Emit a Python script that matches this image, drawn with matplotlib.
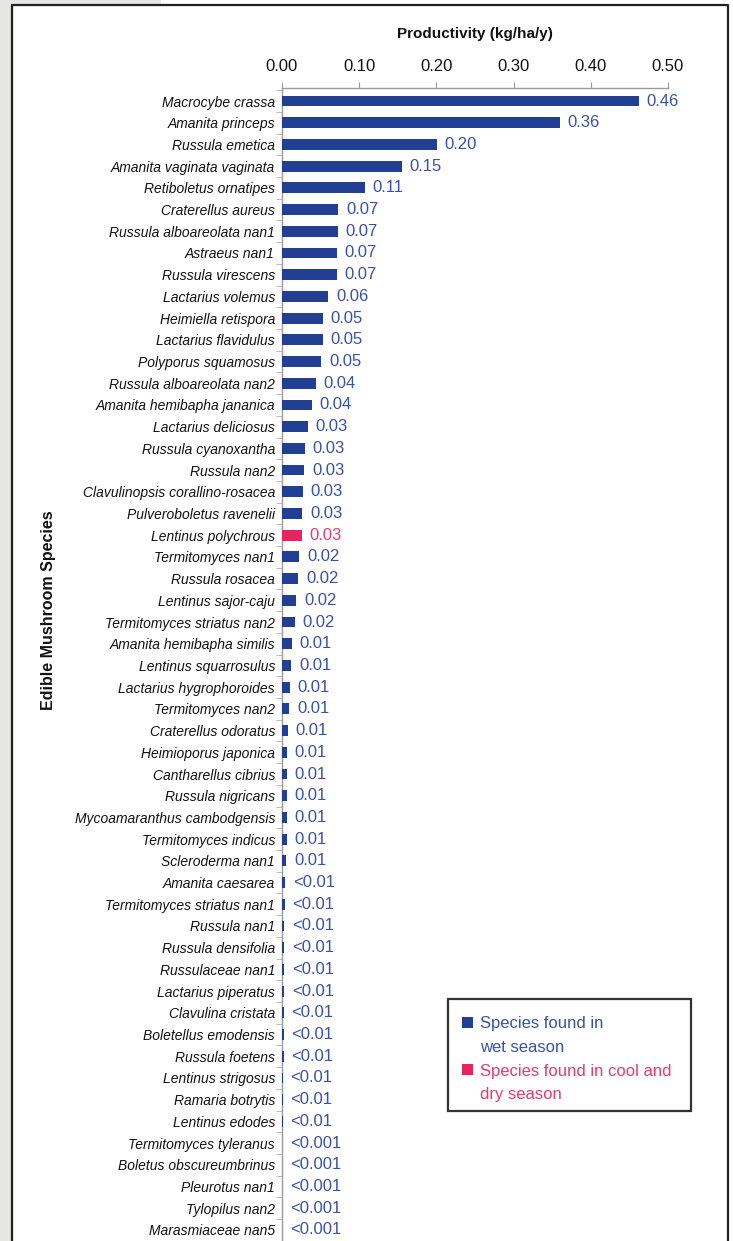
import matplotlib
matplotlib.use("Agg")
import matplotlib.pyplot as plt
from matplotlib.patches import Rectangle, Patch
from matplotlib.lines import Line2D
from matplotlib.ticker import FixedLocator

plt.rcParams['font.family'] = ['Liberation Sans', 'DejaVu Sans']

species = [
    "Macrocybe crassa", "Amanita princeps", "Russula emetica", "Amanita vaginata vaginata",
    "Retiboletus ornatipes", "Craterellus aureus", "Russula alboareolata nan1", "Astraeus nan1",
    "Russula virescens", "Lactarius volemus", "Heimiella retispora", "Lactarius flavidulus",
    "Polyporus squamosus", "Russula alboareolata nan2", "Amanita hemibapha jananica",
    "Lactarius deliciosus", "Russula cyanoxantha", "Russula nan2", "Clavulinopsis corallino-rosacea",
    "Pulveroboletus ravenelii", "Lentinus polychrous", "Termitomyces nan1", "Russula rosacea",
    "Lentinus sajor-caju", "Termitomyces striatus nan2", "Amanita hemibapha similis",
    "Lentinus squarrosulus", "Lactarius hygrophoroides", "Termitomyces nan2", "Craterellus odoratus",
    "Heimioporus japonica", "Cantharellus cibrius", "Russula nigricans", "Mycoamaranthus cambodgensis",
    "Termitomyces indicus", "Scleroderma nan1", "Amanita caesarea", "Termitomyces striatus nan1",
    "Russula nan1", "Russula densifolia", "Russulaceae nan1", "Lactarius piperatus",
    "Clavulina cristata", "Boletellus emodensis", "Russula foetens", "Lentinus strigosus",
    "Ramaria botrytis", "Lentinus edodes", "Termitomyces tyleranus", "Boletus obscureumbrinus",
    "Pleurotus nan1", "Tylopilus nan2", "Marasmiaceae nan5",
]

productivity = [
    0.462, 0.360, 0.201, 0.155, 0.107, 0.073, 0.072, 0.0715, 0.0715, 0.060,
    0.0527, 0.0527, 0.051, 0.0437, 0.0385, 0.0333, 0.0298, 0.0289, 0.0268, 0.0263,
    0.0255, 0.0224, 0.0211, 0.0185, 0.0164, 0.0126, 0.012, 0.0104, 0.0095, 0.0078,
    0.0065, 0.0065, 0.0065, 0.0065, 0.006, 0.0056, 0.0045, 0.0035, 0.003, 0.003,
    0.003, 0.0028, 0.0022, 0.0022, 0.002, 0.0008, 0.0008, 0.0008, 0.0002, 0.0002,
    0.0002, 0.0002, 0.0002,
]

value_labels = (
    ["0.46", "0.36", "0.20", "0.15", "0.11", "0.07", "0.07", "0.07", "0.07", "0.06",
     "0.05", "0.05", "0.05", "0.04", "0.04", "0.03", "0.03", "0.03", "0.03", "0.03",
     "0.03", "0.02", "0.02", "0.02", "0.02"]
    + ["0.01"] * 11 + ["<0.01"] * 12 + ["<0.001"] * 5
)

season = ["wet"] * 53
season[20] = "cool"

x_ticks = [0.0, 0.1, 0.2, 0.3, 0.4, 0.5]
x_label = "Productivity (kg/ha/y)"
y_label = "Edible Mushroom Species"
legend_labels = ["Species found in", "wet season", "Species found in cool and", "dry season"]

BAR_BLUE = "#233f94"
TXT_BLUE = "#3a50ad"
BAR_PINK = "#e6245f"
TXT_PINK = "#e83a6e"
bar_colors = {"wet": BAR_BLUE, "cool": BAR_PINK}
txt_colors = {"wet": TXT_BLUE, "cool": TXT_PINK}

W, H = 733, 1241
fig = plt.figure(figsize=(W / 100, H / 100), dpi=100)
fig.patch.set_facecolor("white")

def fx(px):
    return px / W

def fy(py):
    return 1 - py / H

# background frame
gray = "#e6e6e4"
fig.patches.append(Rectangle((0, 0), fx(12), 1, transform=fig.transFigure, color=gray, zorder=0))
fig.patches.append(Rectangle((0, fy(5)), fx(160), 1 - fy(5), transform=fig.transFigure, color=gray, zorder=0))
fig.lines.append(Line2D([fx(12), fx(12), fx(728), fx(728)], [0, fy(5), fy(5), 0],
                        transform=fig.transFigure, color="#222222", lw=1.6, zorder=1))

ax_left, ax_right, ax_top = 282, 668, 88
ax = fig.add_axes([fx(ax_left), 0, fx(ax_right) - fx(ax_left), fy(ax_top)])
ax.set_facecolor("none")

ypos = list(range(len(species)))
ax.barh(ypos, productivity, height=0.5,
        color=[bar_colors[s] for s in season], zorder=3)

for y, v, lab, s in zip(ypos, productivity, value_labels, season):
    ax.annotate(lab, (v, y), xytext=(5.5, 0), textcoords="offset points",
                ha="left", va="center", fontsize=12, color=txt_colors[s])

spacing = 21.71
first = 101
ax.set_ylim((H - first) / spacing, -(first - ax_top) / spacing)
ax.set_xlim(0, 0.5)

ax.xaxis.tick_top()
ax.xaxis.set_label_position("top")
ax.set_xticks(x_ticks)
ax.set_xticklabels([f"{t:.2f}" for t in x_ticks])
ax.tick_params(axis="x", which="major", length=4, color="#9a9a9a", pad=6,
               labelsize=12, labelcolor="#111111")
ax.set_xlabel(x_label, fontsize=11, fontweight="bold", color="#111111", labelpad=15.5)

ax.set_yticks(ypos)
ax.set_yticklabels(species, fontsize=10, fontstyle="italic", color="#111111")
ax.yaxis.set_minor_locator(FixedLocator([i + 0.5 for i in range(-1, len(species))]))
ax.tick_params(axis="y", which="major", length=0, pad=5)
ax.tick_params(axis="y", which="minor", length=4, color="#b0b0b0")

for side in ["right", "bottom"]:
    ax.spines[side].set_visible(False)
for side in ["left", "top"]:
    ax.spines[side].set_color("#9a9a9a")
    ax.spines[side].set_linewidth(1.0)

fig.text(fx(49), fy(610), y_label, rotation=90, ha="center", va="center",
         fontsize=11.5, fontweight="bold", color="#111111")

# legend frame (drawn under the legend, above the bars)
ax.add_patch(Rectangle((fx(448), fy(1111)), fx(691) - fx(448), fy(999) - fy(1111),
                       transform=fig.transFigure, facecolor="white",
                       edgecolor="#333333", lw=1.6, zorder=4, clip_on=False))
handles = [Patch(facecolor=BAR_BLUE, edgecolor="none"), Patch(facecolor="none", edgecolor="none"),
           Patch(facecolor=BAR_PINK, edgecolor="none"), Patch(facecolor="none", edgecolor="none")]
leg = ax.legend(handles, legend_labels, loc="upper left",
                bbox_to_anchor=(fx(462), fy(1016)), bbox_transform=fig.transFigure,
                frameon=False, fontsize=12, handlelength=0.65, handleheight=0.65,
                handletextpad=0.45, labelspacing=0.53, borderpad=0, borderaxespad=0,
                labelcolor=[TXT_BLUE, TXT_BLUE, TXT_PINK, TXT_PINK])
leg.set_zorder(6)

fig.savefig("out.png", dpi=100)
